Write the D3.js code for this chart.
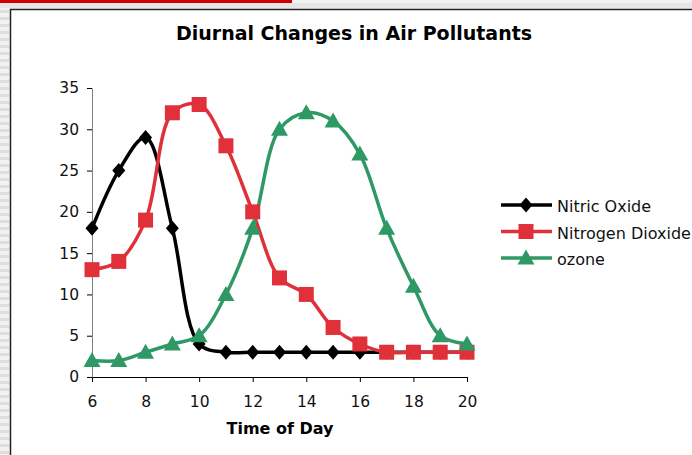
<!DOCTYPE html>
<html>
<head>
<meta charset="utf-8">
<script src="https://cdn.jsdelivr.net/npm/d3@7"></script>
<style>
  body { margin: 0; background: #fff; }
  svg { display: block; font-family: "DejaVu Sans", Verdana, sans-serif; }
</style>
</head>
<body>
<script>
var width = 692;
var height = 455;

var hours = [6, 7, 8, 9, 10, 11, 12, 13, 14, 15, 16, 17, 18, 19, 20];
var nitricOxide = [18, 25, 29, 18, 4, 3, 3, 3, 3, 3, 3, 3, 3, 3, 3];
var nitrogenDioxide = [13, 14, 19, 32, 33, 28, 20, 12, 10, 6, 4, 3, 3, 3, 3];
var ozone = [2, 2, 3, 4, 5, 10, 18, 30, 32, 31, 27, 18, 11, 5, 4];
var xTicks = [6, 8, 10, 12, 14, 16, 18, 20];
var yTicks = [0, 5, 10, 15, 20, 25, 30, 35];
var seriesNames = ["Nitric Oxide", "Nitrogen Dioxide", "ozone"];

// marker shapes, drawn around 0,0
var diamond = { draw: function(p) { p.moveTo(0, -7.5); p.lineTo(6.5, 0); p.lineTo(0, 7.5); p.lineTo(-6.5, 0); p.closePath(); } };
var square = { draw: function(p) { p.rect(-7.5, -7.5, 15, 15); } };
var triangle = { draw: function(p) { p.moveTo(0, -8.5); p.lineTo(8.5, 6.5); p.lineTo(-8.5, 6.5); p.closePath(); } };

var series = [
  { name: seriesNames[0], values: nitricOxide, color: "#000000", marker: diamond },
  { name: seriesNames[1], values: nitrogenDioxide, color: "#e0303a", marker: square },
  { name: seriesNames[2], values: ozone, color: "#2f9966", marker: triangle }
];

var svg = d3.select("body").append("svg")
  .attr("width", width)
  .attr("height", height);

// window chrome around the chart
svg.append("rect").attr("x", 0).attr("y", 0).attr("width", width).attr("height", height).attr("fill", "#f2f2f2");
for (var i = 0; i < 70; i++) {
  svg.append("rect").attr("x", 0).attr("y", 10 + i * 7).attr("width", 9).attr("height", 3).attr("fill", "#dedede");
}
svg.append("rect").attr("x", 0).attr("y", 3).attr("width", width).attr("height", 5).attr("fill", "#e6e6e6");
svg.append("rect").attr("x", 0).attr("y", 0).attr("width", 292).attr("height", 3).attr("fill", "#cc0000");
svg.append("rect").attr("x", 10).attr("y", 9).attr("width", width - 10).attr("height", height - 9)
  .attr("fill", "#fff");
svg.append("path").attr("d", "M10.5," + height + "V9.5H" + width)
  .attr("fill", "none").attr("stroke", "#222").attr("stroke-width", 1.5);

var x = d3.scaleLinear().domain([6, 20]).range([92, 467]);
var y = d3.scaleLinear().domain([0, 35]).range([377, 88]);

var xAxis = svg.append("g")
  .attr("transform", "translate(0," + y(0) + ")")
  .call(d3.axisBottom(x).tickValues(xTicks).tickSize(5).tickSizeOuter(0));
xAxis.attr("font-family", null).attr("font-size", 15.5);
xAxis.select(".domain").attr("stroke", "#000");
xAxis.selectAll(".tick line").attr("stroke", "#000");
xAxis.selectAll("text").attr("y", 30).attr("dy", null).attr("fill", "#111");

var yAxis = svg.append("g")
  .attr("transform", "translate(" + x(6) + ",0)")
  .call(d3.axisLeft(y).tickValues(yTicks).tickSize(5).tickSizeOuter(0));
yAxis.attr("font-family", null).attr("font-size", 15.5);
yAxis.select(".domain").attr("stroke", "#808080");
yAxis.selectAll(".tick line").attr("stroke", "#000");
yAxis.selectAll("text").attr("x", -13).attr("fill", "#111");

svg.append("text")
  .attr("x", 354).attr("y", 40)
  .attr("text-anchor", "middle")
  .attr("font-size", 19).attr("font-weight", "bold")
  .text("Diurnal Changes in Air Pollutants");

svg.append("text")
  .attr("x", 280).attr("y", 434)
  .attr("text-anchor", "middle")
  .attr("font-size", 16).attr("font-weight", "bold")
  .text("Time of Day");

var line = d3.line()
  .x(function(d, i) { return x(hours[i]); })
  .y(function(d) { return y(d); })
  .curve(d3.curveCatmullRom.alpha(0.5));

series.forEach(function(s) {
  svg.append("path")
    .attr("d", line(s.values))
    .attr("fill", "none")
    .attr("stroke", s.color)
    .attr("stroke-width", 3.5);
});

series.forEach(function(s) {
  var sym = d3.symbol().type(s.marker);
  svg.append("g").selectAll("path")
    .data(s.values)
    .enter().append("path")
    .attr("transform", function(d, i) { return "translate(" + x(hours[i]) + "," + y(d) + ")"; })
    .attr("d", sym)
    .attr("fill", s.color);
});

var legend = svg.append("g");
series.forEach(function(s, i) {
  var ly = 205 + i * 26.5;
  legend.append("line").attr("x1", 501).attr("x2", 552).attr("y1", ly).attr("y2", ly)
    .attr("stroke", s.color).attr("stroke-width", 3.5);
  legend.append("path").attr("transform", "translate(526," + ly + ")")
    .attr("d", d3.symbol().type(s.marker)).attr("fill", s.color);
  legend.append("text").attr("x", 557).attr("y", ly + 7)
    .attr("font-size", 16).attr("fill", "#111").text(s.name);
});
</script>
</body>
</html>
